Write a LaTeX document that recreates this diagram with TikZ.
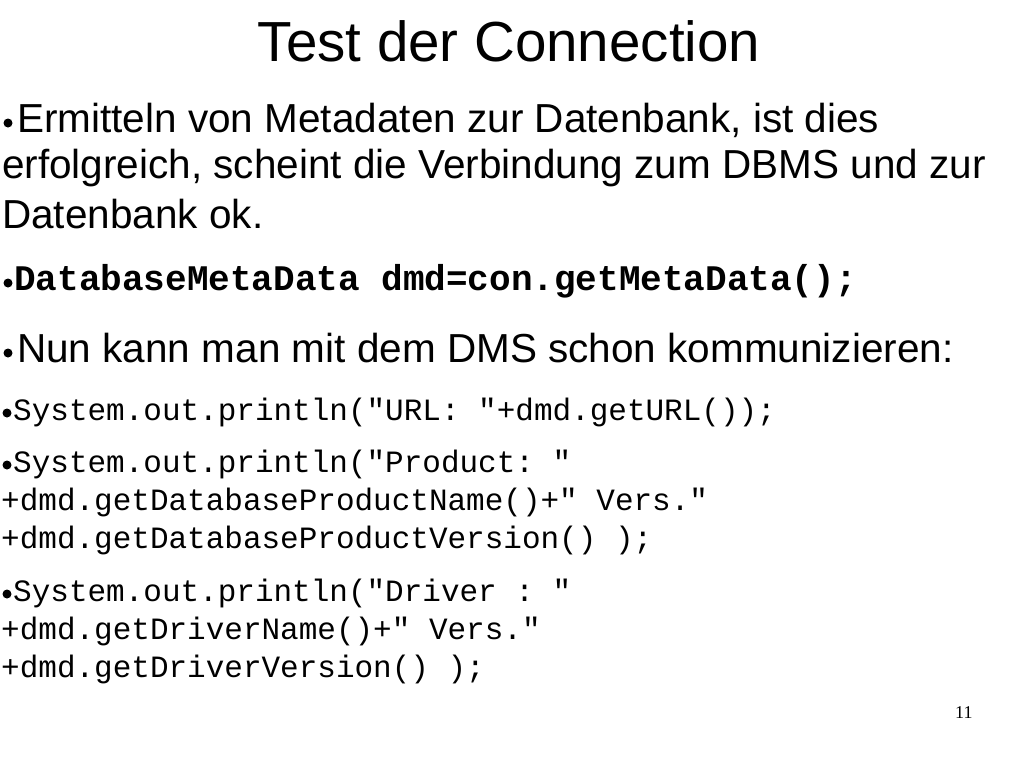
\documentclass[tikz,border=0pt]{standalone}
\usepackage{fontspec}
\setmainfont{Liberation Sans}
\setmonofont{Liberation Mono}
\begin{document}
\begin{tikzpicture}[x=1pt,y=-1pt,
  every node/.style={inner sep=0pt,anchor=base west},
  body/.style={font=\fontsize{40.5}{46}\selectfont},
  code/.style={font=\fontsize{31}{36}\selectfont\ttfamily},
  bul/.style={circle,fill=black,minimum size=9pt,anchor=center}]
\useasboundingbox (0,0) rectangle (1024,768);
\node[anchor=base,font=\fontsize{56.5}{60}\selectfont] (title) at (509,62) {Test der Connection};
\node[bul] (b1) at (8,123) {};
\node[body] (t1a) at (17,132) {Ermitteln von Metadaten zur Datenbank, ist dies};
\node[body] (t1b) at (2,178) {erfolgreich, scheint die Verbindung zum DBMS und zur};
\node[body] (t1c) at (2,228) {Datenbank ok.};
\node[bul] (b2) at (8,283) {};
\node[font=\fontsize{36}{40}\selectfont\ttfamily\bfseries] (t2) at (14,290) {DatabaseMetaData dmd=con.getMetaData();};
\node[bul] (b3) at (8,353) {};
\node[body] (t3) at (17,362) {Nun kann man mit dem DMS schon kommunizieren:};
\node[bul] (b4) at (7,413) {};
\node[code] (t4) at (13,420) {System.out.println("URL: "+dmd.getURL());};
\node[bul] (b5) at (7,465) {};
\node[code] (t5a) at (13,472) {System.out.println("Product: "};
\node[code] (t5b) at (1,510) {+dmd.getDatabaseProductName()+" Vers."};
\node[code] (t5c) at (1,548) {+dmd.getDatabaseProductVersion() );};
\node[bul] (b6) at (7,594) {};
\node[code] (t6a) at (13,601) {System.out.println("Driver : "};
\node[code] (t6b) at (1,639) {+dmd.getDriverName()+" Vers."};
\node[code] (t6c) at (1,677) {+dmd.getDriverVersion() );};
\node[font=\fontsize{18}{20}\selectfont\fontspec{Liberation Serif}] (pg) at (955,718) {11};
\end{tikzpicture}
\end{document}
